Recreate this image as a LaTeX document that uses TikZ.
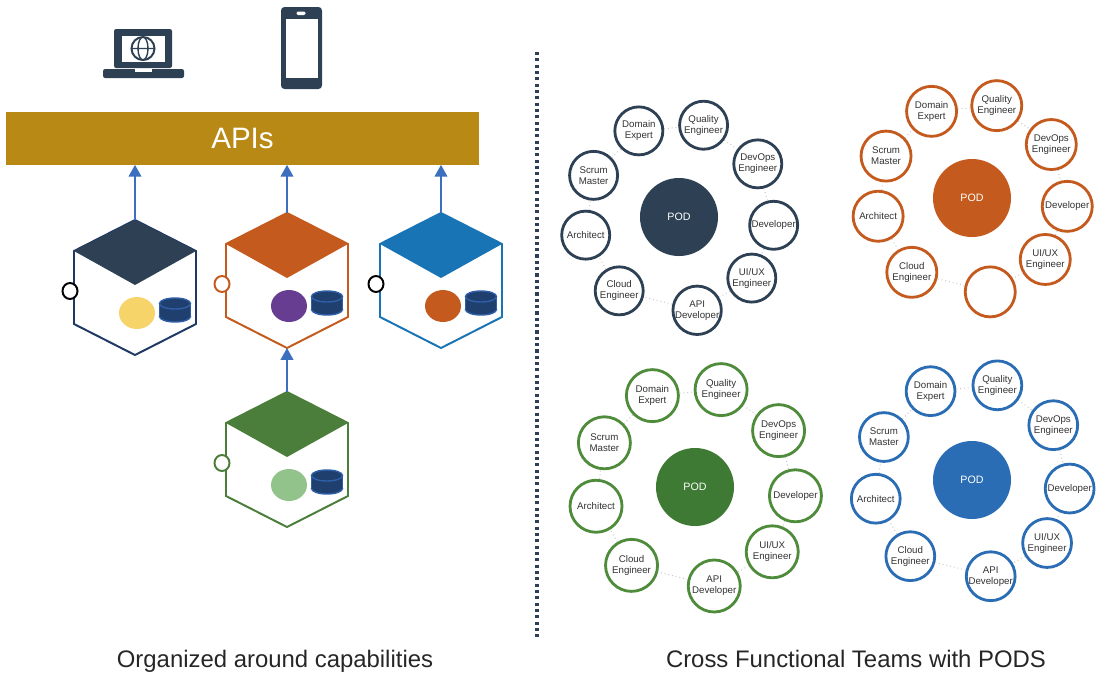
\documentclass[tikz,border=0pt]{standalone}
\usepackage{fontspec}
\setmainfont{Liberation Sans}
\usetikzlibrary{arrows.meta,calc}

\definecolor{apigold}{HTML}{B98915}
\definecolor{slate}{HTML}{2E4154}
\definecolor{navyedge}{HTML}{1F3864}
\definecolor{rust}{HTML}{C55A1E}
\definecolor{ocean}{HTML}{1874B4}
\definecolor{leaf}{HTML}{4A7E3A}
\definecolor{linkblue}{HTML}{3C6FBE}
\definecolor{dbfill}{HTML}{1F3F6E}
\definecolor{dbedge}{HTML}{2F5FA8}
\definecolor{sun}{HTML}{F7D46A}
\definecolor{plum}{HTML}{663D91}
\definecolor{mint}{HTML}{92C38A}
\definecolor{podblue}{HTML}{2A6DB5}
\definecolor{podgreen}{HTML}{3F7A34}
\definecolor{ringgreen}{HTML}{4E8B3A}

\tikzset{
  api/.style={line width=1.5pt, linkblue, -{Triangle[width=9pt,length=8.5pt]}},
  apibar/.style={fill=apigold, minimum width=11.825cm, minimum height=1.3cm, inner sep=0pt,
    text=white, font=\fontsize{21}{24}\selectfont},
  member/.style={circle, draw, line width=2pt, fill=white, inner sep=0pt, align=center,
    font=\fontsize{6.9}{7.8}\selectfont, text=black!80},
  podcore/.style={circle, minimum size=1.95cm, inner sep=0pt, text=white,
    font=\fontsize{7.6}{8}\selectfont},
  podlink/.style={black!22, dotted, line width=0.7pt},
  caption/.style={anchor=base, font=\fontsize{17}{20}\selectfont, text=black!85},
}

% capability cube: #1 name, #2 top corner, #3 face, #4 edge, #5 port, #6 dot
\newcommand\capcube[6]{%
  \begin{scope}[shift={#2}]
    \draw[#4, line width=1.4pt, fill=white]
      (0,0) -- (-61,31) -- (-61,104) -- (0,135) -- (61,104) -- (61,31) -- cycle;
    \fill[#3] (0,0) -- (-61,31) -- (0,65) -- (61,31) -- cycle;
    \draw[#5, line width=1.4pt, fill=white] (-65,71) ellipse [x radius=7.5, y radius=8];
    \fill[#6] (2,93) ellipse [x radius=18, y radius=16];
    % database
    \filldraw[dbedge, fill=dbfill, line width=1pt] (40,96.5) ellipse [x radius=15.5, y radius=5.5];
    \fill[dbfill] (24.5,83.5) rectangle (55.5,96.5);
    \draw[dbedge, line width=1pt] (24.5,83.5) -- (24.5,96.5) (55.5,83.5) -- (55.5,96.5);
    \filldraw[dbedge, fill=dbfill, line width=1pt] (40,83.5) ellipse [x radius=15.5, y radius=5.5];
    \coordinate (#1-top) at (0,0);
    \coordinate (#1-bot) at (0,135);
  \end{scope}}

\begin{document}
\begin{tikzpicture}[x=0.025cm, y=-0.025cm]
\useasboundingbox (0,0) rectangle (1107,673);

% laptop
\fill[slate, rounded corners=1.5pt] (114,29) rectangle (172,68);
\fill[white] (121.5,36) rectangle (164.5,61.5);
\draw[slate, line width=1.4pt] (143,48.5) circle [radius=11.5];
\draw[slate, line width=1pt] (143,48.5) ellipse [x radius=5, y radius=11.5]
  (131.5,48.5) -- (154.5,48.5);
\fill[slate, rounded corners=1.5pt] (103,69) rectangle (184,78);
\fill[white] (135,69) rectangle (152,72);

% phone
\fill[slate, rounded corners=2.5pt] (281,7) rectangle (322,89);
\fill[white] (286,19) rectangle (318,78);
\fill[white, rounded corners=1pt] (296.5,11.5) rectangle (305.5,15);

\node[apibar] (apis) at (242.5,138.5) {APIs};

\capcube{cap1}{(135,220)}{slate}{navyedge}{black}{sun}
\capcube{cap2}{(287,213)}{rust}{rust}{rust}{plum}
\capcube{cap3}{(441,213)}{ocean}{ocean}{black}{rust}
\capcube{cap4}{(287,392)}{leaf}{leaf}{leaf}{mint}

\foreach \c in {cap1,cap2,cap3}
  \draw[api] (\c-top) -- (\c-top |- apis.south);
\draw[api] (cap4-top) -- (cap2-bot);

% divider
\draw[slate, line width=2.2pt, dash pattern=on 2.2pt off 2.3pt] (537,52) -- (537,637);

% pods
\foreach \p/\pos/\rim/\core/\orb/\sz/\api in {
    navypod/{(679,217)}/slate/slate/2.375cm/1.2cm/{API\\Developer},
    rustpod/{(972,198)}/rust/rust/2.39cm/1.25cm/{},
    leafpod/{(695,487)}/ringgreen/podgreen/2.52cm/1.3cm/{API\\Developer},
    oceanpod/{(972,480)}/podblue/podblue/2.45cm/1.22cm/{API\\Developer}} {
  \node[podcore, fill=\core] (\p) at \pos {POD};
  \foreach \a/\role [count=\i] in {115/{Domain\\Expert}, 75/{Quality\\Engineer},
      34/{DevOps\\Engineer}, -5/Developer, -40/{UI/UX\\Engineer}, -79/\api,
      -129/{Cloud\\Engineer}, -169/Architect, 154/{Scrum\\Master}}
    \node[member, draw=\rim, minimum size=\sz] (\p-\i) at ($(\p)+(\a:\orb)$) {\role};
  \foreach \i [remember=\i as \j (initially 9)] in {1,...,9}
    \draw[podlink] (\p-\j) -- (\p-\i);
}

\node[caption] (leftcap) at (275,667) {Organized around capabilities};
\node[caption] (rightcap) at (856,667) {Cross Functional Teams with PODS};
\end{tikzpicture}
\end{document}
